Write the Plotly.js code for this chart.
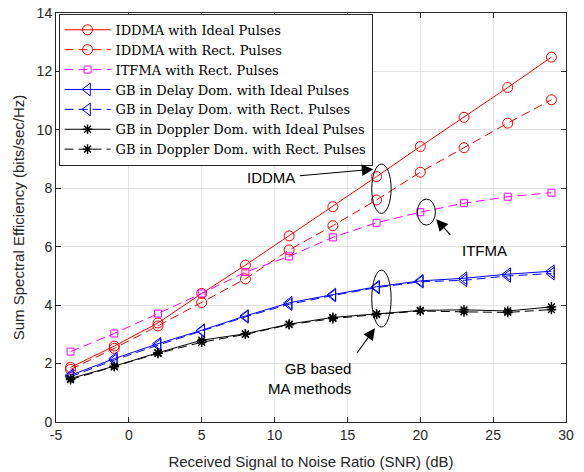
<!DOCTYPE html>
<html>
<head>
<meta charset="utf-8">
<script src="https://cdn.plot.ly/plotly-3.0.1.min.js"></script>
<style>html,body{margin:0;padding:0;background:#fff;}#chart{width:584px;height:472px;}</style>
</head>
<body>
<div id="chart"></div>
<script>
// SNR values (dB)
const snr = [-4, -1, 2, 5, 8, 11, 14, 17, 20, 23, 26, 29];

// Sum spectral efficiency (bits/sec/Hz)
const iddmaIdeal = [1.87, 2.60, 3.39, 4.40, 5.37, 6.37, 7.37, 8.40, 9.43, 10.43, 11.45, 12.49];
const iddmaRect  = [1.80, 2.52, 3.29, 4.09, 4.90, 5.89, 6.72, 7.60, 8.55, 9.39, 10.23, 11.03];
const itfmaRect  = [2.41, 3.03, 3.71, 4.40, 5.13, 5.67, 6.32, 6.82, 7.18, 7.49, 7.71, 7.85];
const delayIdeal = [1.60, 2.17, 2.68, 3.14, 3.63, 4.08, 4.36, 4.63, 4.83, 4.92, 5.06, 5.16];
const delayRect  = [1.55, 2.12, 2.63, 3.12, 3.60, 4.03, 4.33, 4.60, 4.80, 4.85, 5.00, 5.08];
const dopIdeal   = [1.49, 1.91, 2.37, 2.80, 3.02, 3.35, 3.58, 3.70, 3.82, 3.84, 3.80, 3.94];
const dopRect    = [1.45, 1.89, 2.35, 2.73, 3.00, 3.33, 3.54, 3.68, 3.80, 3.77, 3.75, 3.85];

const seriesNames = [
  'IDDMA with Ideal Pulses',
  'IDDMA with Rect. Pulses',
  'ITFMA with Rect. Pulses',
  'GB in Delay Dom. with Ideal Pulses',
  'GB in Delay Dom. with Rect. Pulses',
  'GB in Doppler Dom. with Ideal Pulses',
  'GB in Doppler Dom. with Rect. Pulses'
];

const xTicks = [-5, 0, 5, 10, 15, 20, 25, 30];
const yTicks = [0, 2, 4, 6, 8, 10, 12, 14];

const DASH = '9px,5px';
function tr(name, y, color, dash, symbol, msize, mlw) {
  return {
    x: snr, y: y, name: name, type: 'scatter', mode: 'lines+markers',
    line: {color: color, width: 1, dash: dash},
    marker: {symbol: symbol, size: msize, color: color, line: {color: color, width: mlw}}
  };
}

const data = [
  tr(seriesNames[0], iddmaIdeal, '#ff0000', 'solid', 'circle-open', 10, 1),
  tr(seriesNames[1], iddmaRect,  '#ff0000', DASH, 'circle-open', 10, 1),
  tr(seriesNames[2], itfmaRect,  '#ff00ff', DASH, 'square-open', 7, 1),
  tr(seriesNames[3], delayIdeal, '#0000ff', 'solid', 'triangle-left-open', 11, 1),
  tr(seriesNames[4], delayRect,  '#0000ff', DASH, 'triangle-left-open', 11, 1),
  tr(seriesNames[5], dopIdeal,   '#000000', 'solid', 'asterisk-open', 8, 1.4),
  tr(seriesNames[6], dopRect,    '#000000', DASH, 'asterisk-open', 8, 1.4)
];

const sansFont = {family: 'Liberation Sans, Arial, sans-serif', size: 15, color: '#000'};

function arrow(hx, hy, tx, ty) {
  return {x: hx, y: hy, ax: tx, ay: ty, xref: 'x', yref: 'y', axref: 'x', ayref: 'y',
          text: ' ', showarrow: true, arrowhead: 2, arrowsize: 2.1, arrowwidth: 1.1,
          arrowcolor: '#000', standoff: 0, startstandoff: 0};
}

const layout = {
  width: 584, height: 472,
  margin: {l: 56, r: 18, t: 13, b: 50, pad: 0},
  paper_bgcolor: '#fff', plot_bgcolor: '#fff',
  showlegend: true,
  legend: {
    x: 0.005, y: 0.998, xanchor: 'left', yanchor: 'top',
    bgcolor: '#fff', bordercolor: '#262626', borderwidth: 1,
    font: {family: 'DejaVu Serif, serif', size: 13, color: '#000'},
    itemwidth: 46, tracegroupgap: 0
  },
  xaxis: {
    range: [-5, 30], tickvals: xTicks, ticktext: xTicks.map(String),
    showgrid: true, gridcolor: '#e3e3e3', gridwidth: 1, zeroline: false,
    showline: true, linecolor: '#262626', linewidth: 1, mirror: 'ticks',
    ticks: 'inside', ticklen: 5, tickcolor: '#262626',
    tickfont: {family: 'Liberation Sans, Arial, sans-serif', size: 14, color: '#262626'},
    title: {text: 'Received Signal to Noise Ratio (SNR) (dB)', font: {family: 'Liberation Sans, Arial, sans-serif', size: 15, color: '#262626'}, standoff: 14}
  },
  yaxis: {
    range: [0, 14], tickvals: yTicks, ticktext: yTicks.map(String),
    showgrid: true, gridcolor: '#e3e3e3', gridwidth: 1, zeroline: false,
    showline: true, linecolor: '#262626', linewidth: 1, mirror: 'ticks',
    ticks: 'inside', ticklen: 5, tickcolor: '#262626',
    tickfont: {family: 'Liberation Sans, Arial, sans-serif', size: 14, color: '#262626'},
    title: {text: 'Sum Spectral Efficiency (bits/sec/Hz)', font: {family: 'Liberation Sans, Arial, sans-serif', size: 15, color: '#262626'}, standoff: 8}
  },
  shapes: [
    {type: 'circle', xref: 'x', yref: 'y', x0: 16.67, x1: 18.0, y0: 7.14, y1: 8.83, line: {color: '#000', width: 1}},
    {type: 'circle', xref: 'x', yref: 'y', x0: 19.80, x1: 21.04, y0: 6.74, y1: 7.63, line: {color: '#000', width: 1}},
    {type: 'circle', xref: 'x', yref: 'y', x0: 16.67, x1: 18.0, y0: 3.25, y1: 5.20, line: {color: '#000', width: 1}}
  ],
  annotations: [
    arrow(16.78, 8.65, 11.52, 8.42),
    arrow(21.09, 6.94, 22.27, 6.29),
    arrow(16.89, 3.21, 15.45, 2.22),
    {x: 9.73, y: 8.38, xref: 'x', yref: 'y', text: 'IDDMA', showarrow: false, font: sansFont, xanchor: 'center', yanchor: 'middle'},
    {x: 24.40, y: 5.86, xref: 'x', yref: 'y', text: 'ITFMA', showarrow: false, font: sansFont, xanchor: 'center', yanchor: 'middle'},
    {x: 15.38, y: 1.48, xref: 'x', yref: 'y', text: 'GB based<br>MA methods', showarrow: false, font: sansFont, xanchor: 'right', yanchor: 'middle', align: 'right'}
  ]
};

Plotly.newPlot('chart', data, layout, {displayModeBar: false, staticPlot: true});
</script>
</body>
</html>
